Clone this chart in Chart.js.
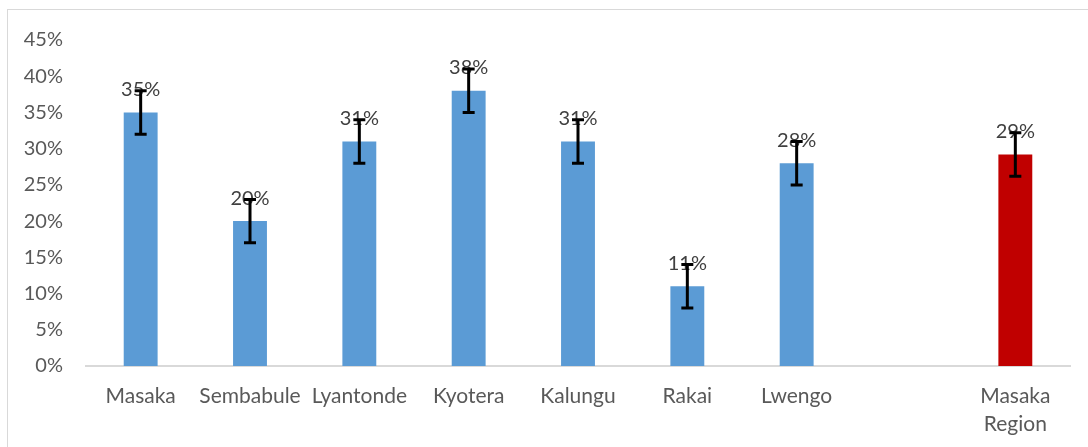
<!DOCTYPE html>
<html>
<head>
<meta charset="utf-8">
<script src="https://cdn.jsdelivr.net/npm/chart.js@4.4.1/dist/chart.umd.min.js"></script>
<style>
  html, body { margin: 0; padding: 0; background: #fff; }
  #wrap { position: relative; width: 1088px; height: 447px; }
</style>
</head>
<body>
<div id="wrap"><canvas id="chart" width="1088" height="447"></canvas></div>
<script>
// district labels (empty slot before the regional bar)
const districts = ['Masaka', 'Sembabule', 'Lyantonde', 'Kyotera', 'Kalungu', 'Rakai', 'Lwengo', '', ['Masaka', 'Region']];
// prevalence in percent
const values = [35, 20, 31, 38, 31, 11, 28, null, 29.2];
// error margin (+/-) in percent
const errors = [3, 3, 3, 3, 3, 3, 3, null, 3];
const barColors = ['#5B9BD5', '#5B9BD5', '#5B9BD5', '#5B9BD5', '#5B9BD5', '#5B9BD5', '#5B9BD5', '#5B9BD5', '#C00000'];
const yTicks = [0, 5, 10, 15, 20, 25, 30, 35, 40, 45];

const FONT = 'Lato, "Open Sans", sans-serif';

// frame + error bars + value labels
const extras = {
  id: 'extras',
  beforeDraw(chart) {
    const ctx = chart.ctx;
    ctx.save();
    ctx.strokeStyle = '#d9d9d9';
    ctx.lineWidth = 1;
    ctx.strokeRect(7.5, 9.5, 1200, 600);
    ctx.restore();
  },
  afterDatasetsDraw(chart) {
    const ctx = chart.ctx;
    const y = chart.scales.y;
    const meta = chart.getDatasetMeta(0);
    ctx.save();
    meta.data.forEach((bar, i) => {
      if (values[i] == null) return;
      const x = bar.x;
      // value label
      ctx.fillStyle = '#404040';
      ctx.font = '20px ' + FONT;
      ctx.textAlign = 'center';
      ctx.textBaseline = 'middle';
      ctx.fillText(Math.round(values[i]) + '%', x, bar.y - 23);
      // error bar
      const top = y.getPixelForValue(values[i] + errors[i]);
      const bot = y.getPixelForValue(values[i] - errors[i]);
      ctx.strokeStyle = '#000';
      ctx.lineWidth = 3;
      ctx.beginPath();
      ctx.moveTo(x, top); ctx.lineTo(x, bot);
      ctx.moveTo(x - 6, top); ctx.lineTo(x + 6, top);
      ctx.moveTo(x - 6, bot); ctx.lineTo(x + 6, bot);
      ctx.stroke();
    });
    ctx.restore();
  }
};

new Chart(document.getElementById('chart'), {
  type: 'bar',
  data: {
    labels: districts,
    datasets: [{
      data: values,
      backgroundColor: barColors,
      barPercentage: 0.31,
      categoryPercentage: 1
    }]
  },
  options: {
    responsive: false,
    animation: false,
    layout: { padding: { top: 40, right: 18, left: 0, bottom: 0 } },
    plugins: { legend: { display: false }, tooltip: { enabled: false } },
    scales: {
      x: {
        grid: { display: false, drawTicks: false },
        border: { display: true, color: '#d9d9d9', width: 2 },
        ticks: {
          color: '#595959',
          font: { family: FONT, size: 21, lineHeight: 1.34 },
          padding: 16,
          maxRotation: 0,
          autoSkip: false
        },
        afterFit(s) { s.height = 81; }
      },
      y: {
        min: 0,
        max: 45,
        grid: { display: false, drawTicks: false },
        border: { display: false },
        afterBuildTicks(s) { s.ticks = yTicks.map(v => ({ value: v })); },
        ticks: {
          color: '#595959',
          font: { family: FONT, size: 20 },
          padding: 23,
          callback: v => v + '%'
        },
        afterFit(s) { s.width = 86; }
      }
    }
  },
  plugins: [extras]
});
</script>
</body>
</html>
